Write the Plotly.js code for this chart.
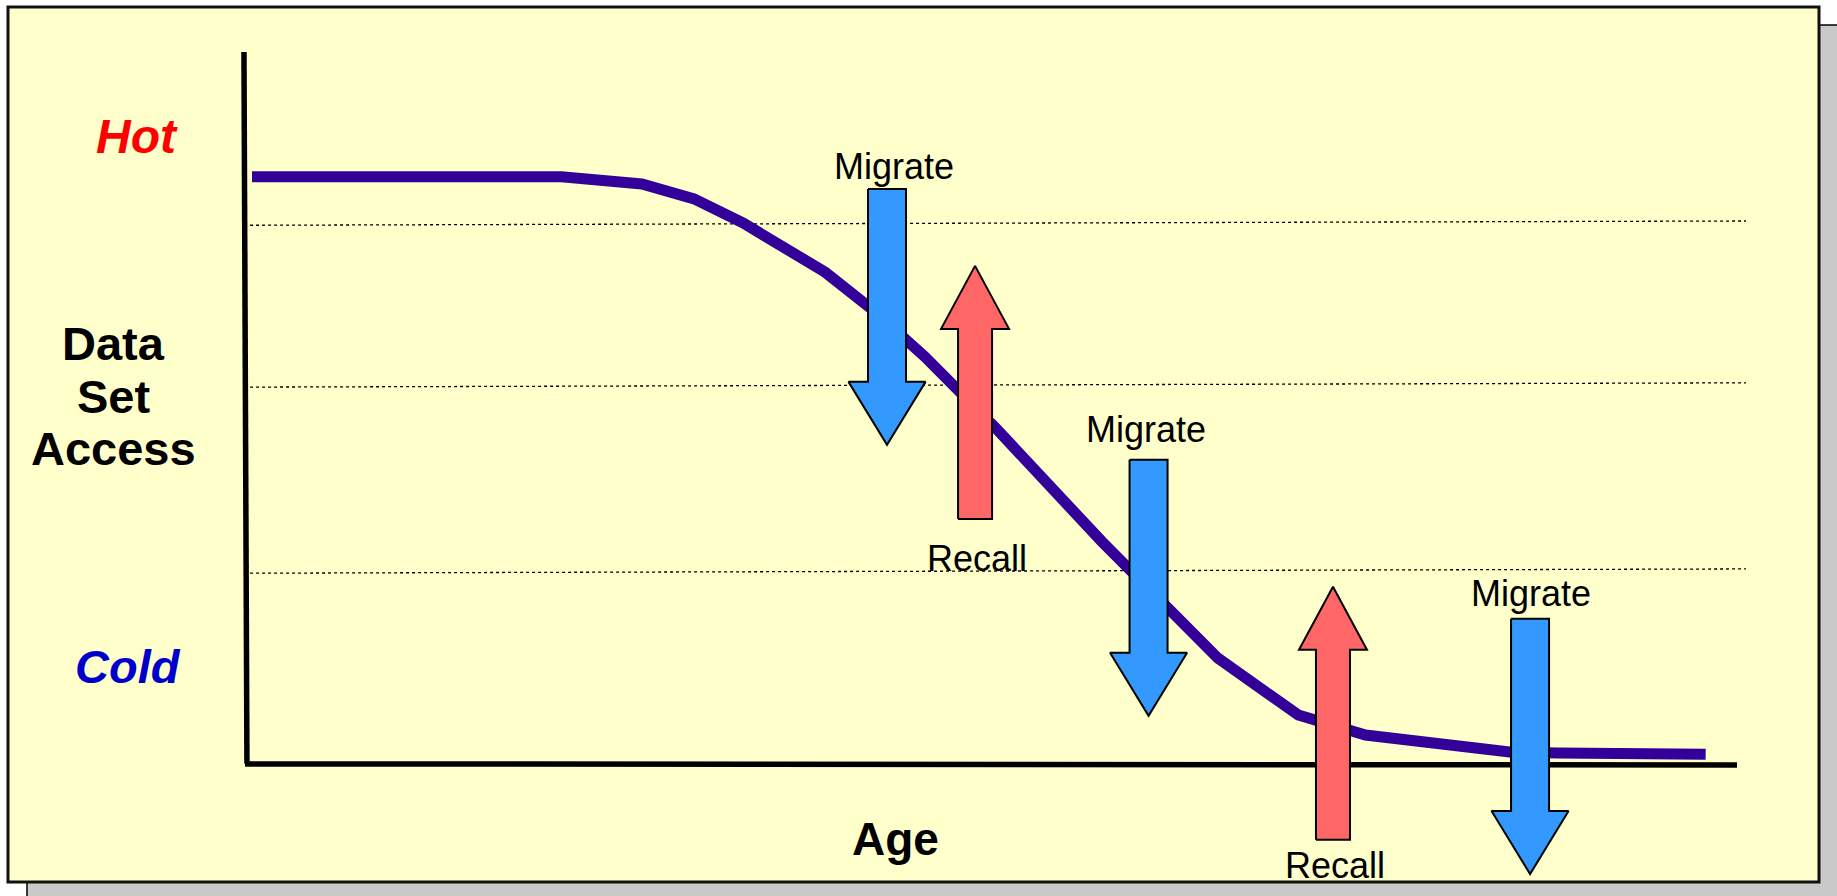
<!DOCTYPE html>
<html>
<head>
<meta charset="utf-8">
<script src="https://cdn.plot.ly/plotly-3.0.1.min.js"></script>
<style>
  html, body { margin: 0; padding: 0; background: #ffffff; }
  #chart { width: 1837px; height: 896px; }
</style>
</head>
<body>
<div id="chart"></div>
<script>
// ---- Data (age 0..100 along the x axis, access 0..100 up the y axis) ----
const curveAge    = [0.47, 21.2, 26.6, 30.1, 33.4, 38.9, 42.1, 45.6, 50.3, 57.4, 65.2, 70.6, 75.1, 84.9, 88.0, 97.9];
const curveAccess = [82.5, 82.5, 81.5, 79.4, 76.0, 69.1, 63.8, 57.2, 47.3, 31.4, 15.0,  7.0,  4.2,  1.8,  1.7,  1.5];

// dotted access levels (left end / right end, the scan is slightly tilted)
const gridLeft  = [75.7, 53.0, 26.9];
const gridRight = [76.3, 53.6, 27.5];

// arrows: kind, centre age, tail access, tip access
const arrowKind = ["Migrate", "Recall", "Migrate", "Recall", "Migrate"];
const arrowAge  = [43.03, 48.93, 60.56, 72.92, 86.13];
const arrowTail = [80.8, 34.5, 42.8, -10.5, 20.5];
const arrowTip  = [44.9, 70.0, 6.9, 25.0, -15.3];

// arrow labels
const labelText = ["Migrate", "Recall", "Migrate", "Recall", "Migrate"];
const labelAge  = [43.5, 49.06, 60.39, 73.06, 86.19];
const labelAcc  = [83.94, 29.03, 47.05, -14.03, 24.12];

// ---- Geometry: plot spans the whole figure; axis units mapped to pixels ----
const W = 1837, H = 896;
const X0 = 245, XPU = 14.92;   // px of age 0, px per age unit
const Y0 = 765, YPU = 7.13;    // px of access 0, px per access unit
const xr = [-X0 / XPU, (W - X0) / XPU];
const yr = [(Y0 - H) / YPU, Y0 / YPU];
const px = v => v / W;          // paper x from pixel
const py = v => 1 - v / H;      // paper y from pixel

const FONT = "Arial, 'Liberation Sans', Helvetica, sans-serif";
const styles = {
  Migrate: { fill: "#3399ff", shaft: 19 / XPU, head: 38.5 / XPU, len: 63 / YPU },
  Recall:  { fill: "#ff6666", shaft: 17 / XPU, head: 34 / XPU,   len: 63 / YPU }
};

const traces = [];
// main curve
traces.push({
  x: curveAge, y: curveAccess, type: "scatter", mode: "lines",
  line: { color: "#330099", width: 11 }, hoverinfo: "skip", showlegend: false
});
// arrows as filled polygons
arrowKind.forEach((k, i) => {
  const s = styles[k];
  const c = arrowAge[i], t = arrowTail[i], p = arrowTip[i];
  const dir = p > t ? 1 : -1;
  const hb = p - dir * s.len;
  const xs = [c - s.shaft, c - s.shaft, c - s.head, c, c + s.head, c + s.shaft, c + s.shaft, c - s.shaft];
  const ys = [t, hb, hb, p, hb, hb, t, t];
  traces.push({
    x: xs, y: ys, type: "scatter", mode: "lines", fill: "toself",
    fillcolor: s.fill, line: { color: "#000000", width: 2 },
    hoverinfo: "skip", showlegend: false
  });
});

const shapes = [];
// shadow
shapes.push({ type: "rect", xref: "paper", yref: "paper", layer: "below",
  x0: px(27), x1: px(1860), y0: py(25), y1: py(920),
  fillcolor: "#c9c9c9", line: { color: "#000000", width: 1.5 } });
// panel
shapes.push({ type: "rect", xref: "paper", yref: "paper", layer: "below",
  x0: px(8), x1: px(1819), y0: py(7), y1: py(882),
  fillcolor: "#ffffcc", line: { color: "#111111", width: 3 } });
// dotted levels
gridLeft.forEach((g, i) => {
  shapes.push({ type: "line", xref: "x", yref: "y", layer: "below",
    x0: 0.34, x1: 100.6, y0: g, y1: gridRight[i],
    line: { color: "#000000", width: 1.3, dash: "dot" } });
});
// axis lines
shapes.push({ type: "line", xref: "x", yref: "y", layer: "below",
  x0: -0.07, y0: 100, x1: 0.13, y1: 0.2, line: { color: "#000000", width: 5.5 } });
shapes.push({ type: "line", xref: "x", yref: "y", layer: "below",
  x0: 0.0, y0: 0.15, x1: 100, y1: 0.0, line: { color: "#000000", width: 5.5 } });

const annotations = [];
const ann = (text, x, y, size, color, bold, italic, ref) => ({
  text: (bold ? "<b>" : "") + (italic ? "<i>" : "") + text + (italic ? "</i>" : "") + (bold ? "</b>" : ""),
  x: x, y: y, xref: ref, yref: ref, showarrow: false,
  xanchor: "center", yanchor: "middle",
  font: { family: FONT, size: size, color: color }
});
annotations.push(ann("Hot", px(137), py(136), 48, "#ff0000", true, true, "paper"));
annotations.push(ann("Cold", px(128), py(666), 47, "#0000cc", true, true, "paper"));
annotations.push(ann("Data", px(113), py(343), 47, "#000000", true, false, "paper"));
annotations.push(ann("Set", px(113), py(396.5), 47, "#000000", true, false, "paper"));
annotations.push(ann("Access", px(113), py(448.5), 47, "#000000", true, false, "paper"));
annotations.push(ann("Age", px(895), py(838.5), 46, "#000000", true, false, "paper"));
labelText.forEach((t, i) => {
  const a = ann(t, labelAge[i], labelAcc[i], 36, "#000000", false, false, "paper");
  a.xref = "x"; a.yref = "y";
  annotations.push(a);
});

const layout = {
  width: W, height: H,
  margin: { l: 0, r: 0, t: 0, b: 0, pad: 0 },
  paper_bgcolor: "#ffffff",
  plot_bgcolor: "rgba(0,0,0,0)",
  showlegend: false,
  xaxis: { range: xr, visible: false, fixedrange: true },
  yaxis: { range: yr, visible: false, fixedrange: true },
  shapes: shapes,
  annotations: annotations
};

Plotly.newPlot("chart", traces, layout, { displayModeBar: false, staticPlot: true });
</script>
</body>
</html>
